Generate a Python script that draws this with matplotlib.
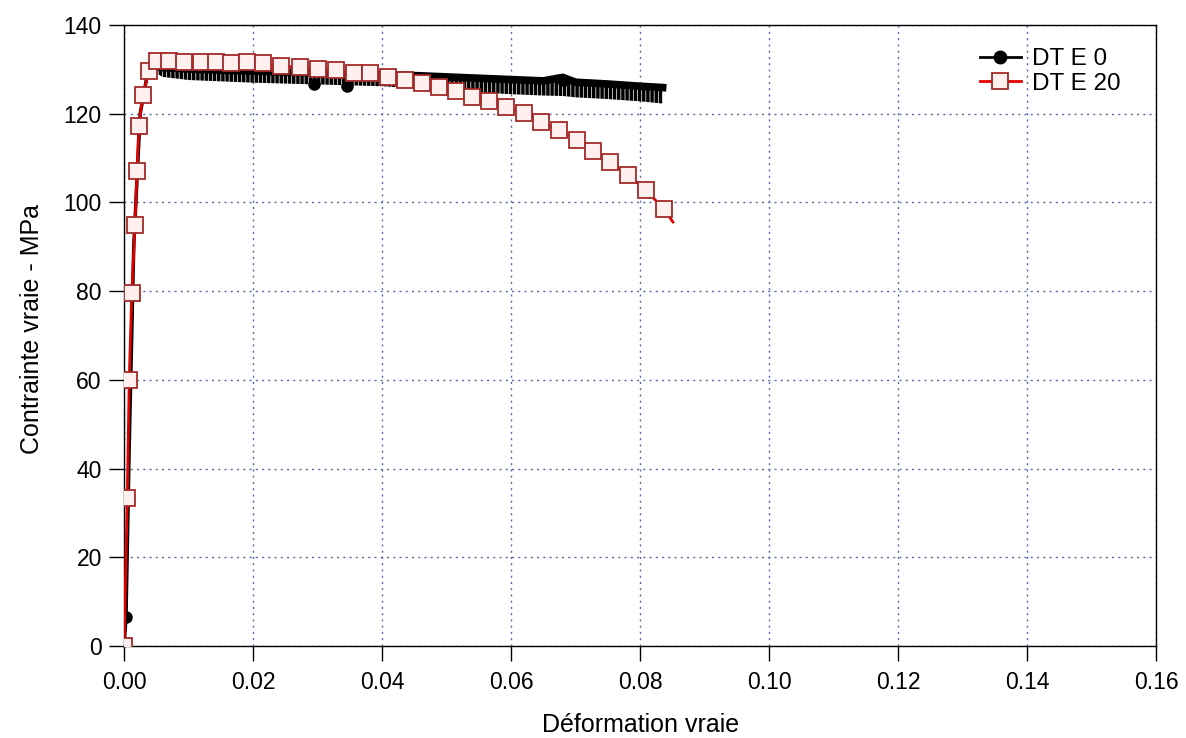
import matplotlib
matplotlib.use('Agg')
import matplotlib.pyplot as plt

plt.rcParams['font.family'] = ['Liberation Sans', 'DejaVu Sans']
plt.rcParams['hatch.linewidth'] = 2.5

# DT E 20 (red, square markers)
red_strain = [0.0000, 0.0005, 0.0008, 0.0012, 0.0017, 0.0020, 0.0023, 0.0029, 0.0039,
              0.0051, 0.0070, 0.0093, 0.0119, 0.0143, 0.0166, 0.0191, 0.0216, 0.0243,
              0.0273, 0.0301, 0.0329, 0.0357, 0.0381, 0.0409, 0.0436, 0.0462, 0.0488,
              0.0515, 0.0540, 0.0566, 0.0592, 0.0620, 0.0647, 0.0674, 0.0702, 0.0727,
              0.0753, 0.0781, 0.0809, 0.0837]
red_stress = [0.0, 33.4, 60.0, 79.6, 94.9, 107.1, 117.2, 124.2, 129.6,
              131.9, 131.9, 131.6, 131.6, 131.6, 131.4, 131.6, 131.4, 130.7,
              130.5, 130.1, 129.8, 129.2, 129.2, 128.3, 127.6, 126.9, 126.0,
              125.1, 123.8, 122.9, 121.5, 120.2, 118.1, 116.3, 114.1, 111.6,
              109.1, 106.2, 102.8, 98.5]
red_end_strain = 0.0851
red_end_stress = 95.6

# DT E 0 (black): elastic rise, then noisy plateau (upper / lower envelope)
black_rise_strain = [0.0, 0.0003, 0.0008, 0.0015, 0.0025, 0.0035, 0.0045]
black_rise_stress = [0.0, 6.5, 45.0, 90.0, 120.0, 128.0, 130.2]
black_strain = [0.0045, 0.006, 0.01, 0.015, 0.02, 0.025, 0.03, 0.035, 0.04, 0.045,
                0.05, 0.055, 0.06, 0.065, 0.068, 0.07, 0.075, 0.08, 0.0835]
black_upper = [130.6, 130.4, 130.1, 129.8, 129.6, 129.4, 129.2, 129.0, 128.8, 128.6,
               128.3, 128.0, 127.7, 127.4, 128.2, 127.1, 126.7, 126.2, 125.9]
black_lower = [129.5, 128.3, 127.6, 127.3, 127.0, 126.8, 126.6, 126.4, 126.2, 125.7,
               125.2, 124.8, 124.4, 124.1, 124.0, 123.7, 123.3, 122.8, 122.3]
black_mark_strain = [0.0003, 0.0295, 0.0345, 0.068]
black_mark_stress = [6.5, 126.8, 126.3, 127.5]

xticks = [0.00, 0.02, 0.04, 0.06, 0.08, 0.10, 0.12, 0.14, 0.16]
yticks = [0, 20, 40, 60, 80, 100, 120, 140]

fig = plt.figure(figsize=(11.86, 7.38), dpi=100)
ax = fig.add_axes([0.1046, 0.1247, 0.8701, 0.8414])

ax.grid(True, linestyle=(0, (1.5, 3)), color='#5a6aa8', linewidth=1.0)
ax.set_axisbelow(True)

# black series: line on top, noise drawn as vertical hatching down to the lower envelope
ax.plot(black_rise_strain, black_rise_stress, color='black', lw=2.5, zorder=2)
ax.fill_between(black_strain, black_lower, black_upper, facecolor='none',
                edgecolor='black', hatch='||||', lw=0, zorder=2)
ax.plot(black_strain, black_upper, color='black', lw=5.5, zorder=2)
ax.plot(black_mark_strain, black_mark_stress, 'o', color='black', ms=8, zorder=2)

# red series
ax.plot(red_strain + [red_end_strain], red_stress + [red_end_stress],
        color='#e00000', lw=2, zorder=3)
ax.plot(red_strain, red_stress, 's', ms=11, mfc='#fff0f0', mec='#a52a2a',
        mew=1.3, zorder=4)

# legend handles
ax.plot([], [], '-o', color='black', lw=2, ms=9, label='DT E 0')
ax.plot([], [], '-s', color='#e00000', lw=2, ms=12, mfc='#fff0f0', mec='#a52a2a',
        mew=1.3, label='DT E 20')
ax.legend(loc='upper left', bbox_to_anchor=(0.829, 0.963), frameon=False,
          fontsize=17.5, handlelength=1.7, handletextpad=0.45, borderaxespad=0,
          borderpad=0, labelspacing=0.12)

ax.set_xlim(0, 0.16)
ax.set_ylim(0, 140)
ax.set_xticks(xticks)
ax.set_yticks(yticks)
ax.set_xticklabels(['%.2f' % v for v in xticks])
ax.tick_params(direction='out', length=11, width=1, labelsize=16.5)
ax.tick_params(axis='x', pad=7)
ax.tick_params(axis='y', pad=5)

for s in ax.spines.values():
    s.set_linewidth(1.0)

ax.set_xlabel('Déformation vraie', fontsize=18)
ax.set_ylabel('Contrainte vraie - MPa', fontsize=18)
ax.xaxis.set_label_coords(0.501, -0.108)
ax.yaxis.set_label_coords(-0.078, 0.51)

fig.savefig('out.png', dpi=100)
